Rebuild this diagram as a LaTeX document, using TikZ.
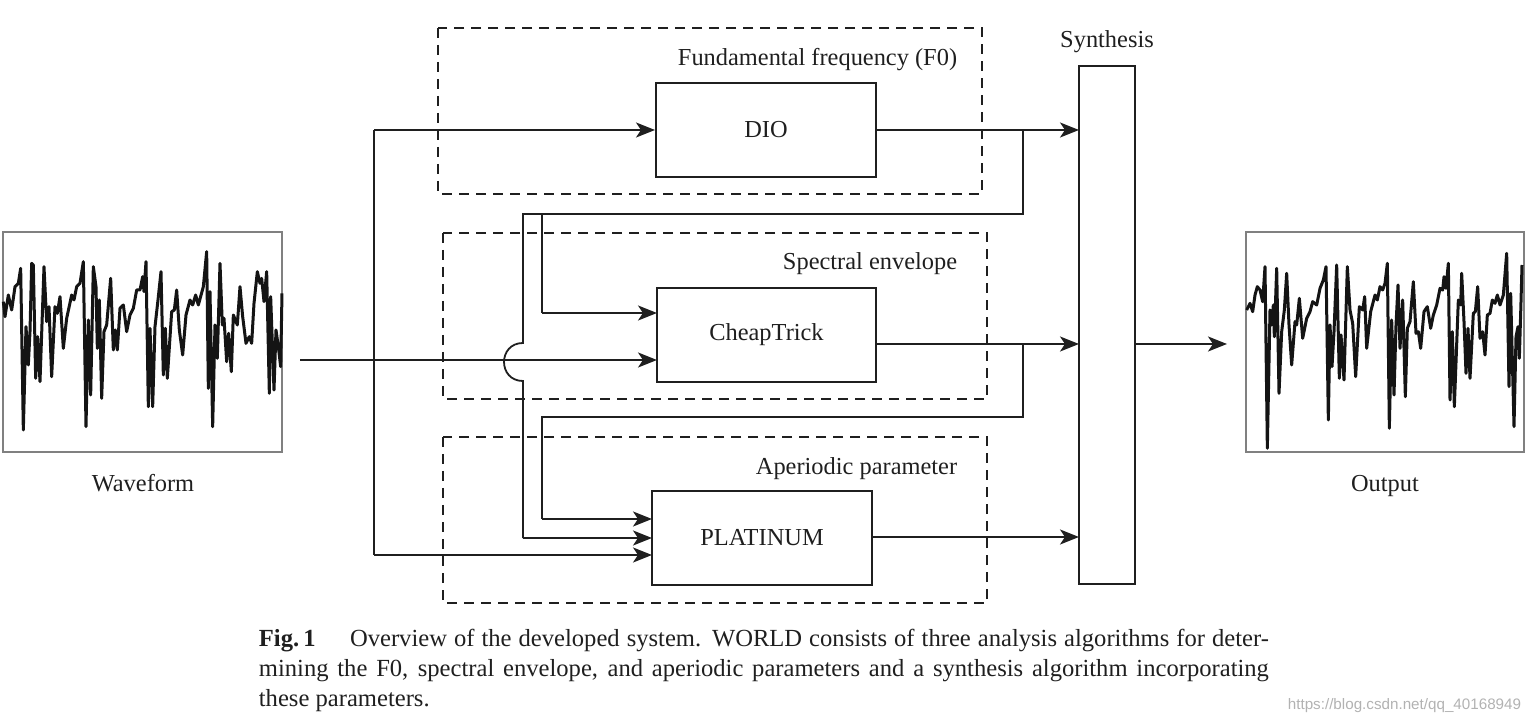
\documentclass[tikz,border=0pt]{standalone}
\usepackage{fontspec}
\setmainfont{Liberation Serif}
\newfontfamily\wmfont{Liberation Sans}
\usetikzlibrary{arrows.meta}
\begin{document}
\begin{tikzpicture}[x=0.5pt,y=-0.5pt,
  line width=0.9pt, color=black!88,
  arr/.style={-{Stealth[length=9.5pt,width=7.5pt,inset=2.5pt]}},
  blk/.style={draw, line width=1pt, inner sep=0, font=\fontsize{12.2}{14}\selectfont},
  dbox/.style={draw, dash pattern=on 5pt off 3.5pt, line width=0.9pt},
  lbl/.style={inner sep=0, font=\fontsize{12.2}{14}\selectfont},
  wbox/.style={draw=black!50, line width=0.8pt, inner sep=0},
  wave/.style={line width=1.5pt, line join=round, black!92}
]
\useasboundingbox (0,0) rectangle (1530,726);

% dashed groups
\draw[dbox] (438,28) rectangle (982,194);
\draw[dbox] (443,233) rectangle (987,399);
\draw[dbox] (443,437) rectangle (987,603);

% blocks
\node[blk, minimum width=110pt, minimum height=47pt] (dio) at (766,130) {DIO};
\node[blk, minimum width=109.5pt, minimum height=47pt] (cheap) at (766.5,335) {CheapTrick};
\node[blk, minimum width=110pt, minimum height=46.5pt] (plat) at (762,538) {PLATINUM};
\node[blk, minimum width=28pt, minimum height=259pt] (synth) at (1107,325) {};
\node[wbox, minimum width=139.5pt, minimum height=110pt] (win) at (142.5,342) {};
\node[wbox, minimum width=139pt, minimum height=110pt] (wout) at (1385,342) {};

% labels
\node[lbl, anchor=base east] (f0lbl) at (958,66) {Fundamental frequency (F0)};
\node[lbl, anchor=base east] (selbl) at (958,270) {Spectral envelope};
\node[lbl, anchor=base east] (aplbl) at (958,474) {Aperiodic parameter};
\node[lbl, anchor=base] (synlbl) at (1107,48) {Synthesis};
\node[lbl, anchor=base] (wlbl) at (143,492) {Waveform};
\node[lbl, anchor=base] (olbl) at (1385,492) {Output};

% coordinates
\coordinate (in0) at (300,360);
\coordinate (ta) at (374,130);
\coordinate (tb) at (374,555);
\coordinate (pl3) at (652,555);
\coordinate (ch1) at (657,313);
\coordinate (ch2) at (657,360);
\coordinate (pl1) at (652,519);
\coordinate (pl2) at (652,538);
\coordinate (dout) at (876,130);
\coordinate (sin1) at (1079,130);
\coordinate (cout) at (876,344);
\coordinate (sin2) at (1079,344);
\coordinate (pout) at (872,537);
\coordinate (sin3) at (1079,537);
\coordinate (sout) at (1135,344);
\coordinate (oend) at (1227,344);

% input distribution
\draw[arr] (in0) -- (ch2);
\draw (ta) -- (tb);
\draw[arr] (ta) -- (dio.west);
\draw[arr] (tb) -- (pl3);

% outputs to synthesis
\draw[arr] (dout) -- (sin1);
\draw[arr] (cout) -- (sin2);
\draw[arr] (pout) -- (sin3);
\draw[arr] (sout) -- (oend);

% F0 feedback
\draw (1023,130) -- (1023,214) -- (523,214) -- (523,343)
  .. controls (497.7,343) and (497.7,381) .. (523,381) -- (523,538);
\draw[arr] (523,538) -- (pl2);
\draw (542,214) -- (542,313);
\draw[arr] (542,313) -- (ch1);

% spectral feedback
\draw (1023,344) -- (1023,417) -- (542,417) -- (542,519);
\draw[arr] (542,519) -- (pl1);

% input waveform
\begin{scope}[shift={(0,225)}, scale=1/3]
\draw[wave] (10,230)--(15,275)--(25,210)--(35,255)--(45,185)--(55,175)--(62,130)--(70,615)--(78,305)--(85,420)--(90,320)--(95,115)--(100,120)--(107,460)--(113,335)--(120,470)--(132,125)--(140,290)--(147,245)--(155,455)--(165,245)--(172,265)--(180,215)--(190,370)--(200,280)--(215,210)--(222,225)--(230,185)--(240,175)--(250,110)--(258,605)--(265,285)--(272,510)--(280,125)--(288,185)--(292,370)--(298,225)--(305,520)--(312,320)--(320,300)--(332,160)--(340,375)--(346,315)--(352,375)--(360,250)--(370,240)--(380,320)--(390,270)--(400,250)--(410,195)--(420,195)--(428,155)--(432,200)--(438,110)--(445,545)--(450,310)--(458,545)--(465,305)--(474,225)--(483,140)--(490,450)--(496,310)--(502,460)--(515,260)--(523,255)--(530,195)--(538,315)--(548,390)--(558,270)--(570,225)--(578,240)--(587,210)--(595,240)--(610,185)--(620,80)--(625,490)--(630,200)--(638,605)--(645,300)--(652,400)--(660,115)--(667,300)--(672,280)--(680,410)--(686,325)--(694,440)--(700,270)--(712,300)--(720,185)--(728,275)--(738,355)--(748,335)--(755,355)--(762,235)--(772,140)--(780,175)--(785,160)--(792,230)--(800,140)--(808,505)--(812,215)--(822,495)--(828,315)--(835,365)--(842,425)--(846,205);
\end{scope}

% output waveform
\begin{scope}[shift={(1240,225)}, scale=1/3]
\draw[wave] (20,255)--(30,235)--(38,260)--(45,210)--(52,185)--(60,195)--(68,230)--(75,125)--(82,670)--(90,255)--(95,300)--(100,240)--(103,335)--(110,130)--(117,505)--(125,320)--(133,255)--(140,145)--(147,300)--(155,420)--(165,290)--(170,300)--(178,220)--(188,340)--(200,280)--(210,260)--(218,230)--(230,240)--(240,190)--(250,165)--(258,125)--(265,585)--(270,300)--(276,425)--(282,320)--(290,120)--(298,460)--(303,330)--(312,465)--(322,125)--(330,255)--(338,295)--(347,455)--(358,245)--(368,255)--(374,215)--(380,370)--(392,260)--(405,210)--(412,225)--(420,185)--(428,195)--(435,175)--(442,115)--(448,610)--(455,285)--(462,510)--(468,300)--(474,180)--(480,370)--(488,225)--(496,515)--(502,310)--(510,290)--(520,170)--(528,325)--(535,320)--(542,370)--(552,260)--(562,245)--(572,310)--(580,270)--(590,240)--(600,190)--(608,195)--(612,155)--(618,190)--(625,115)--(630,525)--(637,320)--(643,545)--(655,225)--(662,240)--(665,145)--(672,290)--(678,445)--(684,310)--(690,460)--(700,265)--(706,260)--(713,185)--(720,340)--(728,320)--(735,390)--(742,270)--(750,265)--(757,225)--(765,235)--(772,210)--(780,240)--(790,210)--(800,85)--(807,485)--(812,205)--(822,605)--(828,335)--(834,305)--(838,400)--(843,230)--(846,120);
\end{scope}

% caption
\node[anchor=north west, inner sep=0, text width=505pt, align=justify,
  font=\fontsize{12.3}{15}\selectfont] (cap) at (258,628)
  {\textbf{Fig.\,1}\hspace{1.4em}Overview of the developed system. WORLD consists of three analysis algorithms for deter-\linebreak mining the F0, spectral envelope, and aperiodic parameters and a synthesis algorithm incorporating\linebreak these parameters.};

% watermark
\node[anchor=base east, inner sep=0, font=\wmfont\fontsize{7.6}{9}\selectfont, text=black!30] (wm) at (1522,709) {https://blog.csdn.net/qq\_40168949};
\end{tikzpicture}
\end{document}
